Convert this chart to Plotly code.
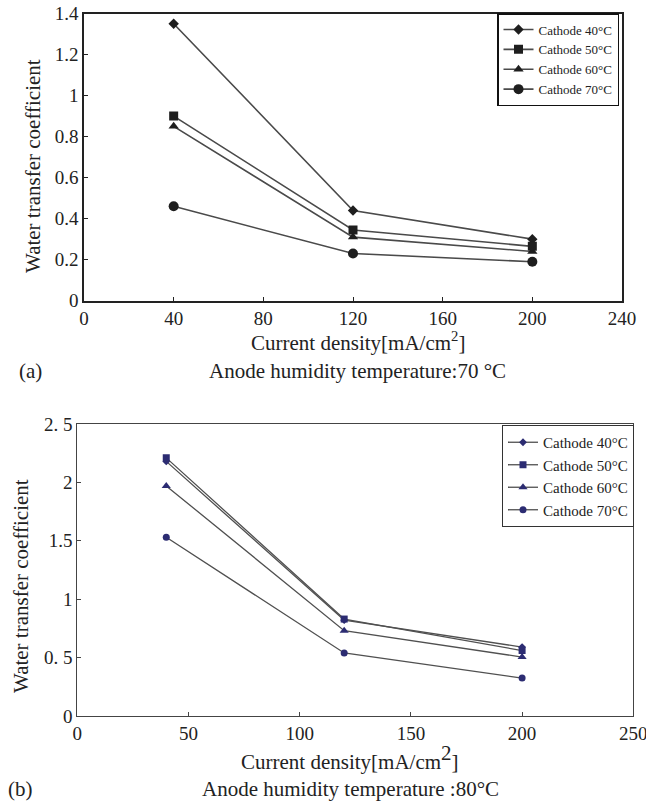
import plotly.graph_objects as go

W, H = 646, 805

# ---------------- data ----------------
series_names = ["Cathode 40°C", "Cathode 50°C", "Cathode 60°C", "Cathode 70°C"]
current_density = [40, 120, 200]

# (a) Anode humidity temperature 70 °C
wtc_a_40 = [1.35, 0.44, 0.30]
wtc_a_50 = [0.90, 0.345, 0.265]
wtc_a_60 = [0.85, 0.31, 0.24]
wtc_a_70 = [0.46, 0.23, 0.19]

# (b) Anode humidity temperature 80 °C
wtc_b_40 = [2.18, 0.82, 0.59]
wtc_b_50 = [2.21, 0.83, 0.56]
wtc_b_60 = [1.97, 0.73, 0.505]
wtc_b_70 = [1.53, 0.54, 0.325]

xticks_a = [0, 40, 80, 120, 160, 200, 240]
yticks_a = [0, 0.2, 0.4, 0.6, 0.8, 1.0, 1.2, 1.4]
yticktext_a = ["0", "0.2", "0.4", "0.6", "0.8", "1", "1.2", "1.4"]

xticks_b = [0, 50, 100, 150, 200, 250]
yticks_b = [0, 0.5, 1.0, 1.5, 2.0, 2.5]
yticktext_b = ["0", "0. 5", "1", "1.5", "2", "2. 5"]

symbols = ["diamond", "square", "triangle-up", "circle"]
sizes_a = [8, 9, 9, 10]
sizes_b = [6, 7, 8, 7]

FONT = "Liberation Serif"

def px_x(p):
    return p / W

def px_y(p):
    return 1 - p / H

fig = go.Figure()

for name, ys, sym, sz in zip(series_names, [wtc_a_40, wtc_a_50, wtc_a_60, wtc_a_70], symbols, sizes_a):
    fig.add_trace(go.Scatter(
        x=current_density, y=ys, name=name, mode="lines+markers",
        line=dict(color="#4a4a4a", width=1.6),
        marker=dict(symbol=sym, size=sz, color="#1e1e1e"),
        xaxis="x", yaxis="y", legend="legend",
    ))

for name, ys, sym, sz in zip(series_names, [wtc_b_40, wtc_b_50, wtc_b_60, wtc_b_70], symbols, sizes_b):
    fig.add_trace(go.Scatter(
        x=current_density, y=ys, name=name, mode="lines+markers",
        line=dict(color="#505050", width=1.3),
        marker=dict(symbol=sym, size=sz, color="#2c2c72"),
        xaxis="x2", yaxis="y2", legend="legend2",
    ))

axis_common = dict(showgrid=False, zeroline=False, showline=True, mirror=True,
                   automargin=False, ticklabeloverflow="allow", ticks="inside", ticklen=4,
                   tickfont=dict(family=FONT, size=19, color="#222"))

fig.update_layout(
    width=W, height=H, autosize=False,
    margin=dict(l=0, r=0, t=0, b=0, pad=0),
    paper_bgcolor="white", plot_bgcolor="white",
    font=dict(family=FONT, color="#222"),
    xaxis=dict(domain=[px_x(84), px_x(622)], range=[0, 240], tickvals=xticks_a,
               anchor="y", linecolor="#222", linewidth=1.6, tickcolor="#222", **axis_common),
    yaxis=dict(domain=[px_y(300.7), px_y(13.5)], range=[0, 1.4], tickvals=yticks_a,
               ticktext=yticktext_a, anchor="x", linecolor="#222", linewidth=1.6,
               tickcolor="#222", **axis_common),
    xaxis2=dict(domain=[px_x(77.3), px_x(633.3)], range=[0, 250], tickvals=xticks_b,
                anchor="y2", linecolor="#444", linewidth=1.1, tickcolor="#444", **axis_common),
    yaxis2=dict(domain=[px_y(716), px_y(424)], range=[0, 2.5], tickvals=yticks_b,
                ticktext=yticktext_b, anchor="x2", linecolor="#444", linewidth=1.1,
                tickcolor="#444", **axis_common),
    legend=dict(x=px_x(497), y=px_y(13), xanchor="left", yanchor="top",
                bgcolor="white", bordercolor="#111", borderwidth=1.5,
                font=dict(family=FONT, size=13, color="#222"),
                tracegroupgap=0, itemsizing="trace"),
    legend2=dict(x=px_x(502), y=px_y(425), xanchor="left", yanchor="top",
                 bgcolor="white", bordercolor="#333", borderwidth=1,
                 font=dict(family=FONT, size=15, color="#222"),
                 tracegroupgap=0, itemsizing="trace"),
    showlegend=True,
)

annotations = [
    # (a) titles
    dict(text="Water transfer coefficient", x=px_x(33), y=px_y(166), textangle=-90,
         font=dict(size=21)),
    dict(text="Current density[mA/cm<sup>2</sup>]", x=px_x(358), y=px_y(342),
         font=dict(size=21)),
    dict(text="(a)", x=px_x(30), y=px_y(371), font=dict(size=21)),
    dict(text="Anode humidity temperature:70 °C", x=px_x(357), y=px_y(371),
         font=dict(size=21)),
    # (b) titles
    dict(text="Water transfer coefficient", x=px_x(21), y=px_y(586), textangle=-90,
         font=dict(size=21)),
    dict(text="Current density[mA/cm<sup><span style='font-size:21px'>2</span></sup>]",
         x=px_x(350), y=px_y(757), font=dict(size=21)),
    dict(text="(b)", x=px_x(20), y=px_y(789), font=dict(size=21)),
    dict(text="Anode humidity temperature :80°C", x=px_x(350), y=px_y(789),
         font=dict(size=21)),
]
for a in annotations:
    a.update(xref="paper", yref="paper", showarrow=False, xanchor="center", yanchor="middle")
    a["font"] = dict(family=FONT, color="#222", **a["font"])
fig.update_layout(annotations=annotations)

# remove the default 8px body margin so the 646x805 figure fills the window exactly
fig.write_html("out.html", config={"displayModeBar": False},
               post_script="document.body.style.margin='0';document.body.style.overflow='hidden';")
